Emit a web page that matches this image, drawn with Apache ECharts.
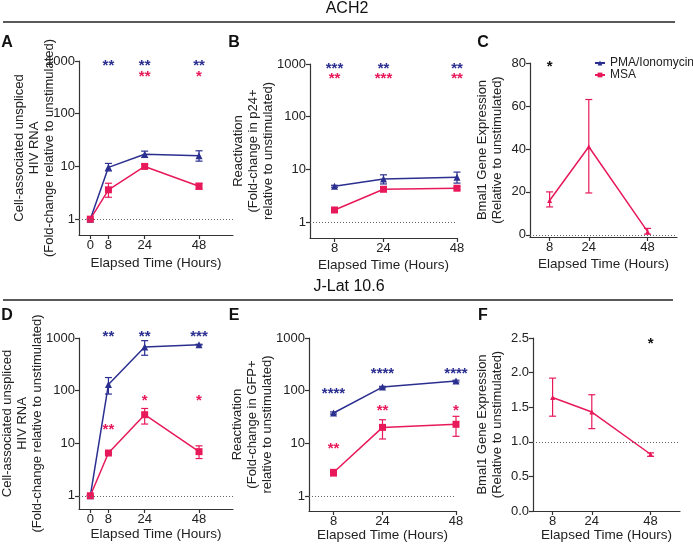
<!DOCTYPE html>
<html>
<head>
<meta charset="utf-8">
<script src="https://cdn.jsdelivr.net/npm/echarts@6/dist/echarts.min.js"></script>
<style>
html, body { margin: 0; padding: 0; background: #fff; }
#chart { width: 693px; height: 544px; }
</style>
</head>
<body>
<div id="chart"></div>
<script>
const FONT = 'Liberation Sans, Arial, sans-serif';
const BLUE = '#2b2f8f';
const RED = '#e8195a';
const BLACK = '#111';

// x values (hours)
const hoursWith0 = [0, 8, 24, 48];
const hours = [8, 24, 48];

// A: ACH2, cell-associated unspliced HIV RNA
const aPma = [1, 9.6, 17, 16];
const aPmaErr = [[1, 1], [8.2, 11.4], [14.8, 19.5], [12.6, 19.8]];
const aMsa = [1, 3.6, 10, 4.2];
const aMsaErr = [[1, 1], [2.6, 4.8], [9.2, 10.9], [3.7, 4.8]];
const aStars = [[8, 950, '**', 'b'], [24, 950, '**', 'b'], [48, 950, '**', 'b'],
                [24, 600, '**', 'r'], [48, 600, '*', 'r']];

// B: ACH2, p24+ reactivation
const bPma = [4.8, 6.6, 7.1];
const bPmaErr = [[4.6, 5.0], [5.3, 7.9], [5.5, 8.9]];
const bMsa = [1.7, 4.2, 4.4];
const bMsaErr = [[1.6, 1.8], [4.0, 4.4], [4.1, 4.7]];
const bStars = [[8, 950, '***', 'b'], [24, 950, '**', 'b'], [48, 950, '**', 'b'],
                [8, 620, '**', 'r'], [24, 620, '***', 'r'], [48, 620, '**', 'r']];

// C: ACH2, Bmal1 expression
const cMsa = [16, 41, 1.5];
const cMsaErr = [[13, 20], [19.5, 63], [0.3, 3]];
const cStars = [[8, 80, '*', 'k']];

// D: J-Lat 10.6, cell-associated unspliced HIV RNA
const dPma = [1, 131, 676, 748];
const dPmaErr = [[1, 1], [86, 177], [470, 891], [735, 760]];
const dMsa = [1, 6.5, 34.8, 6.9];
const dMsaErr = [[1, 1], [6.2, 6.8], [23.1, 45.7], [5.1, 8.9]];
const dStars = [[8, 1240, '**', 'b'], [24, 1240, '**', 'b'], [48, 1240, '***', 'b'],
                [8, 21, '**', 'r'], [24, 76, '*', 'r'], [48, 76, '*', 'r']];

// E: J-Lat 10.6, GFP+ reactivation
const ePma = [37.7, 117, 152];
const ePmaErr = [[36, 39.5], [113, 121], [146, 158]];
const eMsa = [2.8, 20.1, 23];
const eMsaErr = [[2.4, 3.2], [12.1, 28.1], [13.6, 32.6]];
const eStars = [[8, 103, '****', 'b'], [24, 246, '****', 'b'], [48, 246, '****', 'b'],
                [8, 9.3, '**', 'r'], [24, 49, '**', 'r'], [48, 49, '*', 'r']];

// F: J-Lat 10.6, Bmal1 expression
const fMsa = [1.64, 1.43, 0.82];
const fMsaErr = [[1.37, 1.92], [1.19, 1.68], [0.79, 0.84]];
const fStars = [[48, 2.47, '*', 'k']];

const logTicks = [1, 10, 100, 1000];
const cTicks = [0, 20, 40, 60, 80];
const fTicks = [0, 0.5, 1, 1.5, 2, 2.5];

const NAME_HIV = 'Cell-associated unspliced\nHIV RNA\n(Fold-change relative to unstimulated)';
const NAME_P24 = 'Reactivation\n(Fold-change in p24+\nrelative to unstimulated)';
const NAME_GFP = 'Reactivation\n(Fold-change in GFP+\nrelative to unstimulated)';
const NAME_BMAL = 'Bmal1 Gene Expression\n(Relative to unstimulated)';

const starColor = { b: BLUE, r: RED, k: BLACK };

const panels = [
  { grid: [79, 61, 154, 174], xr: [-5, 63], xt: hoursWith0, log: true, yr: [0.5, 1000], yt: logTicks,
    name: NAME_HIV, gap: 22, xgap: 21, ref: 1, xs: hoursWith0, pma: aPma, pmaErr: aPmaErr, msa: aMsa, msaErr: aMsaErr, stars: aStars },
  { grid: [310, 64, 147, 174], xr: [0, 48], xt: hours, log: true, yr: [0.5, 1000], yt: logTicks,
    name: NAME_P24, gap: 34, xgap: 20, ref: 1, xs: hours, pma: bPma, pmaErr: bPmaErr, msa: bMsa, msaErr: bMsaErr, stars: bStars },
  { grid: [530, 63, 147, 174], xr: [0, 60], xt: hours, log: false, yr: [-1, 80], yt: cTicks,
    name: NAME_BMAL, gap: 25, xgap: 20, ref: 0, xs: hours, msa: cMsa, msaErr: cMsaErr, stars: cStars, small: true },
  { grid: [79, 338, 154, 171], xr: [-5, 63], xt: hoursWith0, log: true, yr: [0.56, 1000], yt: logTicks,
    name: NAME_HIV, gap: 34, xgap: 18, ref: 1, xs: hoursWith0, pma: dPma, pmaErr: dPmaErr, msa: dMsa, msaErr: dMsaErr, stars: dStars },
  { grid: [309, 338, 147, 173], xr: [0, 48], xt: hours, log: true, yr: [0.52, 1000], yt: logTicks,
    name: NAME_GFP, gap: 34, xgap: 17, ref: 1, xs: hours, pma: ePma, pmaErr: ePmaErr, msa: eMsa, msaErr: eMsaErr, stars: eStars },
  { grid: [533, 338, 147, 173], xr: [0, 60], xt: hours, log: false, yr: [0, 2.5], yt: fTicks,
    name: NAME_BMAL, gap: 28, xgap: 17, ref: 1, xs: hours, msa: fMsa, msaErr: fMsaErr, stars: fStars, small: true }
];

function errRender(color) {
  return function (params, api) {
    const x = api.value(0);
    const lo = api.coord([x, api.value(1)]);
    const hi = api.coord([x, api.value(2)]);
    const cap = 3.5;
    const s = { stroke: color, lineWidth: 1.2 };
    return {
      type: 'group',
      children: [
        { type: 'line', shape: { x1: lo[0], y1: lo[1], x2: hi[0], y2: hi[1] }, style: s },
        { type: 'line', shape: { x1: lo[0] - cap, y1: lo[1], x2: lo[0] + cap, y2: lo[1] }, style: s },
        { type: 'line', shape: { x1: hi[0] - cap, y1: hi[1], x2: hi[0] + cap, y2: hi[1] }, style: s }
      ]
    };
  };
}

function starRender(list) {
  return function (params, api) {
    const p = api.coord([api.value(0), api.value(1)]);
    const st = list[params.dataIndex];
    return {
      type: 'text',
      x: p[0],
      y: p[1] + 4,
      style: {
        text: st[2], fill: starColor[st[3]], font: 'bold 15px ' + FONT,
        align: 'center', verticalAlign: 'middle'
      }
    };
  };
}

const grids = [], xAxes = [], yAxes = [], series = [];
const axisLine = { onZero: false, lineStyle: { color: '#333', width: 1.2 } };
const axisTick = { length: 4, lineStyle: { color: '#333', width: 1.2 } };

panels.forEach(function (p, i) {
  grids.push({ left: p.grid[0], top: p.grid[1], width: p.grid[2], height: p.grid[3], outerBoundsMode: 'none' });
  xAxes.push({
    gridIndex: i, type: 'value', min: p.xr[0], max: p.xr[1],
    axisLine: axisLine, axisTick: Object.assign({ customValues: p.xt }, axisTick),
    axisLabel: { customValues: p.xt, margin: 4, fontSize: 13, color: '#222', fontFamily: FONT },
    splitLine: { show: false },
    name: 'Elapsed Time (Hours)', nameLocation: 'middle', nameGap: p.xgap, nameMoveOverlap: false,
    nameTextStyle: { fontSize: 13.5, color: '#222', fontFamily: FONT }
  });
  yAxes.push({
    gridIndex: i, type: p.log ? 'log' : 'value', min: p.yr[0], max: p.yr[1],
    axisLine: axisLine, axisTick: Object.assign({ customValues: p.yt }, axisTick),
    axisLabel: {
      customValues: p.yt, margin: 4, fontSize: 13, color: '#222', fontFamily: FONT,
      formatter: function (v) { return p.log ? String(v) : (p.small && p.yr[1] < 10 ? v.toFixed(1) : String(v)); }
    },
    splitLine: { show: false },
    name: p.name, nameLocation: 'middle', nameRotate: 90, nameGap: p.gap, nameMoveOverlap: false,
    nameTextStyle: { fontSize: 13, lineHeight: 15, color: '#222', fontFamily: FONT }
  });

  if (p.pma) {
    series.push({
      name: 'PMA/Ionomycin', type: 'line', xAxisIndex: i, yAxisIndex: i,
      data: p.xs.map(function (x, k) { return [x, p.pma[k]]; }),
      symbol: 'triangle', symbolSize: 7, color: BLUE,
      lineStyle: { width: 1.5, color: BLUE }, itemStyle: { color: BLUE }, z: 4
    });
    series.push({
      type: 'custom', xAxisIndex: i, yAxisIndex: i, clip: false, z: 3,
      data: p.xs.map(function (x, k) { return [x, p.pmaErr[k][0], p.pmaErr[k][1]]; }),
      encode: { x: 0, y: [1, 2] }, renderItem: errRender(BLUE)
    });
  }
  series.push({
    name: 'MSA', type: 'line', xAxisIndex: i, yAxisIndex: i,
    data: p.xs.map(function (x, k) { return [x, p.msa[k]]; }),
    symbol: p.small ? 'triangle' : 'rect', symbolSize: p.small ? 5 : 7, color: RED,
    lineStyle: { width: 1.5, color: RED }, itemStyle: { color: RED }, z: 4,
    markLine: {
      silent: true, symbol: 'none', label: { show: false },
      lineStyle: { type: [1, 2], color: '#666', width: 1 },
      data: [{ yAxis: p.ref }]
    }
  });
  series.push({
    type: 'custom', xAxisIndex: i, yAxisIndex: i, clip: false, z: 3,
    data: p.xs.map(function (x, k) { return [x, p.msaErr[k][0], p.msaErr[k][1]]; }),
    encode: { x: 0, y: [1, 2] }, renderItem: errRender(RED)
  });
  series.push({
    type: 'custom', xAxisIndex: i, yAxisIndex: i, clip: false, z: 5, silent: true,
    data: p.stars.map(function (s) { return [s[0], s[1]]; }),
    encode: { x: 0, y: 1 }, renderItem: starRender(p.stars)
  });
});

function label(text, x, y, size, bold) {
  return {
    type: 'text', x: x, y: y,
    style: { text: text, font: (bold ? 'bold ' : '') + size + 'px ' + FONT, fill: '#111', align: 'center', verticalAlign: 'middle' }
  };
}

const graphic = [
  label('ACH2', 347, 9, 16, false),
  { type: 'line', shape: { x1: 3, y1: 22, x2: 675, y2: 22 }, style: { stroke: '#222', lineWidth: 1.5 } },
  label('J-Lat 10.6', 349, 287, 16, false),
  { type: 'line', shape: { x1: 3, y1: 300, x2: 673, y2: 300 }, style: { stroke: '#222', lineWidth: 1.5 } },
  label('A', 7, 43, 16, true),
  label('B', 234, 43, 16, true),
  label('C', 483, 43, 16, true),
  label('D', 7, 316, 16, true),
  label('E', 234, 316, 16, true),
  label('F', 483, 316, 16, true)
];

const chart = echarts.init(document.getElementById('chart'));
chart.setOption({
  animation: false,
  backgroundColor: '#fff',
  textStyle: { fontFamily: FONT },
  legend: {
    data: ['PMA/Ionomycin', 'MSA'], left: 594, top: 57, orient: 'vertical',
    itemWidth: 10, itemHeight: 6, itemGap: 0, padding: 0,
    textStyle: { fontSize: 12, lineHeight: 11, color: '#222', fontFamily: FONT }
  },
  grid: grids,
  xAxis: xAxes,
  yAxis: yAxes,
  series: series,
  graphic: graphic
});
</script>
</body>
</html>
